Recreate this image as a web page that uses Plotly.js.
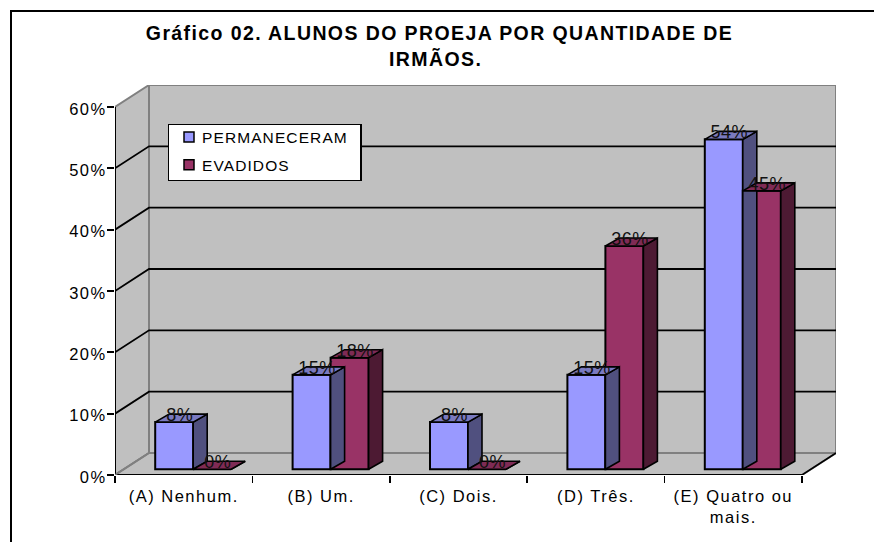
<!DOCTYPE html>
<html><head><meta charset="utf-8">
<script src="https://cdn.plot.ly/plotly-3.0.1.min.js"></script>
<style>html,body{margin:0;padding:0;background:#fff}#c{width:874px;height:542px}
.gtitle,.annotation-text{letter-spacing:1.4px}
.xtick text,.ytick text{letter-spacing:1.5px}
.textpoint text{letter-spacing:0.5px}
.legendtext{letter-spacing:1.1px;transform:translateX(-7px)}
.legend rect.bg{height:56px}
.legend .scrollbox{transform:translate(0,-4.6px)}</style></head><body><div id="c"></div>
<script>
const categories=["(A) Nenhum.","(B) Um.","(C) Dois.","(D) Três.","(E) Quatro ou<br>mais."];
const permaneceram=[7.7,15.4,7.7,15.4,53.8];
const evadidos=[0,18.2,0,36.4,45.4];
const yTicks=[0,10,20,30,40,50,60];
const nameA="PERMANECERAM",nameB="EVADIDOS";
const titleLine1="Gráfico 02. ALUNOS DO PROEJA POR QUANTIDADE DE",titleLine2="IRMÃOS.";

const W=874,H=542,L=115,R=836,T=85,B=475;
const pxX=137.4,pxY=6.133; // px per category / per percent
const xmin=-0.5,xmax=xmin+(R-L)/pxX,ymax=(B-T)/pxY;
const wallDx=34/pxX,wallDy=22/pxY;      // wall depth
const barDx=14/pxX,barDy=8/pxY;         // bar depth
const lift=5.7/pxY,shift=9.5/pxX,barW=38/pxX;
const xEnd=4.5;
const cats=categories.map((_,i)=>i);
const xA=cats.map(i=>i+shift-barW/2),xB=cats.map(i=>i+shift+barW/2);

function poly(xs,ys,fill,lineCol,lw){return {type:'scatter',mode:'lines',x:xs.concat(xs[0]),y:ys.concat(ys[0]),
  fill:'toself',fillcolor:fill,line:{color:lineCol,width:lw},hoverinfo:'skip',showlegend:false,cliponaxis:false};}
function pathShape(pts,fill,col,w){return {type:'path',xref:'x',yref:'y',layer:'below',
  path:'M'+pts.map(p=>p.join(',')).join('L')+(fill?'Z':''),fillcolor:fill||'rgba(0,0,0,0)',line:{color:col,width:w}};}

const shapes=[];
// walls and floor
shapes.push(pathShape([[xmin,0],[xmin+wallDx,wallDy],[xmin+wallDx,60+wallDy],[xmin,60]],'#c0c0c0','#808080',2));
shapes.push(pathShape([[xmin+wallDx,wallDy],[xEnd+wallDx,wallDy],[xEnd+wallDx,60+wallDy],[xmin+wallDx,60+wallDy]],'#c0c0c0','#808080',2));
shapes.push(pathShape([[xmin,0],[xEnd,0],[xEnd+wallDx,wallDy],[xmin+wallDx,wallDy]],'#c0c0c0','#808080',2));
yTicks.slice(1,-1).forEach(v=>shapes.push(pathShape([[xmin,v],[xmin+wallDx,v+wallDy],[xEnd+wallDx,v+wallDy]],null,'#000',1.8)));
// axis lines
shapes.push(pathShape([[xmin,0],[xmin,60]],null,'#000',2));
shapes.push(pathShape([[xmin,0],[xEnd,0]],null,'#000',2));
shapes.push(pathShape([[xEnd,0],[xEnd+wallDx,wallDy]],null,'#000',1.5));
shapes.push(pathShape([[xmin,0],[xmin+wallDx,wallDy]],null,'#808080',1.5));
// chart frame: open on the right and at the bottom, as in the picture
const pxToX=p=>(p-L)/(R-L),pxToY=p=>(B-p)/(B-T);
shapes.push({type:'path',xref:'paper',yref:'paper',layer:'below',
  path:`M${pxToX(11)},${pxToY(545)}L${pxToX(11)},${pxToY(11)}L${pxToX(878)},${pxToY(11)}`,line:{color:'#000',width:2},fillcolor:'rgba(0,0,0,0)'});

const traces=[];
function barSet(xc,vals,side,top){
  return xc.map((x,i)=>{
    const v=vals[i],l=x-barW/2,r=x+barW/2,b=lift,t=lift+v;
    return [poly([r,r+barDx,r+barDx,r],[b,b+barDy,t+barDy,t],side,'#000',1.6),
            poly([l,r,r+barDx,l+barDx],[t,t,t+barDy,t+barDy],top,'#000',1.6)];
  });
}
const sideA=barSet(xA,permaneceram,'#50507f','#7a7ac0'),
      sideB=barSet(xB,evadidos,'#4d1a33','#7f2b55');
const faceBar=(x,v,col,name)=>({type:'bar',x,y:v,base:lift,width:barW,name,showlegend:false,
  marker:{color:col,line:{color:'#000',width:2}},hovertemplate:name+': %{y:.0f}%<extra></extra>'});
cats.forEach(i=>traces.push(...sideA[i]));
traces.push(faceBar(xA,permaneceram,'#9999ff',nameA));
cats.forEach(i=>traces.push(...sideB[i]));
traces.push(faceBar(xB,evadidos,'#993366',nameB));
// legend entries
traces.push({type:'scatter',mode:'markers',x:[null],y:[null],name:nameA,legendgroup:'a',marker:{symbol:'square',size:10,color:'#9999ff',line:{color:'#000',width:1.5}}});
traces.push({type:'scatter',mode:'markers',x:[null],y:[null],name:nameB,legendgroup:'b',marker:{symbol:'square',size:10,color:'#993366',line:{color:'#000',width:1.5}}});
// value labels
const lab=(xc,v)=>({type:'scatter',mode:'text',x:xc.map(x=>x+5.5/pxX),y:v.map(a=>a+lift+5.5/pxY),text:v.map(a=>Math.round(a)+'%'),
  textposition:'middle center',textfont:{family:'Liberation Sans',size:18,color:'#111'},showlegend:false,hoverinfo:'skip',cliponaxis:false});
traces.push(lab(xA,permaneceram),lab(xB,evadidos));

const layout={width:W,height:H,paper_bgcolor:'#fff',plot_bgcolor:'rgba(0,0,0,0)',
  margin:{l:L,r:W-R,t:T,b:H-B,pad:0},
  font:{family:'Liberation Sans',size:16.5,color:'#000'},barmode:'overlay',
  title:{text:'<b>'+titleLine1+'</b>',x:439.5/W,xanchor:'center',y:1-33/H,yanchor:'middle',font:{size:19.5,family:'Liberation Sans',color:'#000'}},
  annotations:[{text:'<b>'+titleLine2+'</b>',xref:'paper',yref:'paper',x:(435-L)/(R-L),y:(B-58.5)/(B-T),xanchor:'center',yanchor:'middle',showarrow:false,font:{size:19.5}}],
  xaxis:{type:'linear',range:[xmin,xmax],tickvals:cats,ticktext:categories,ticks:'',showgrid:false,zeroline:false,showline:false,ticklabelstandoff:9,
    minor:{tickvals:[-0.5,0.5,1.5,2.5,3.5,4.5],ticks:'outside',ticklen:7,tickwidth:1.5,tickcolor:'#000',showgrid:false}},
  yaxis:{range:[0,ymax],tickvals:yTicks,ticktext:yTicks.map(v=>v+'%'),ticks:'outside',ticklen:7,tickwidth:2,tickcolor:'#000',showgrid:false,zeroline:false,showline:false,ticklabelshift:2,ticklabelstandoff:-3},
  legend:{x:(167.5-L)/(R-L),y:(B-123.5)/(B-T),xanchor:'left',yanchor:'top',bgcolor:'#fff',bordercolor:'#000',borderwidth:1.5,
    traceorder:'grouped',tracegroupgap:4.5,font:{size:15.5},itemwidth:30,entrywidth:169},
  shapes,showlegend:true};
Plotly.newPlot('c',traces,layout,{displayModeBar:false,staticPlot:true});
</script></body></html>
